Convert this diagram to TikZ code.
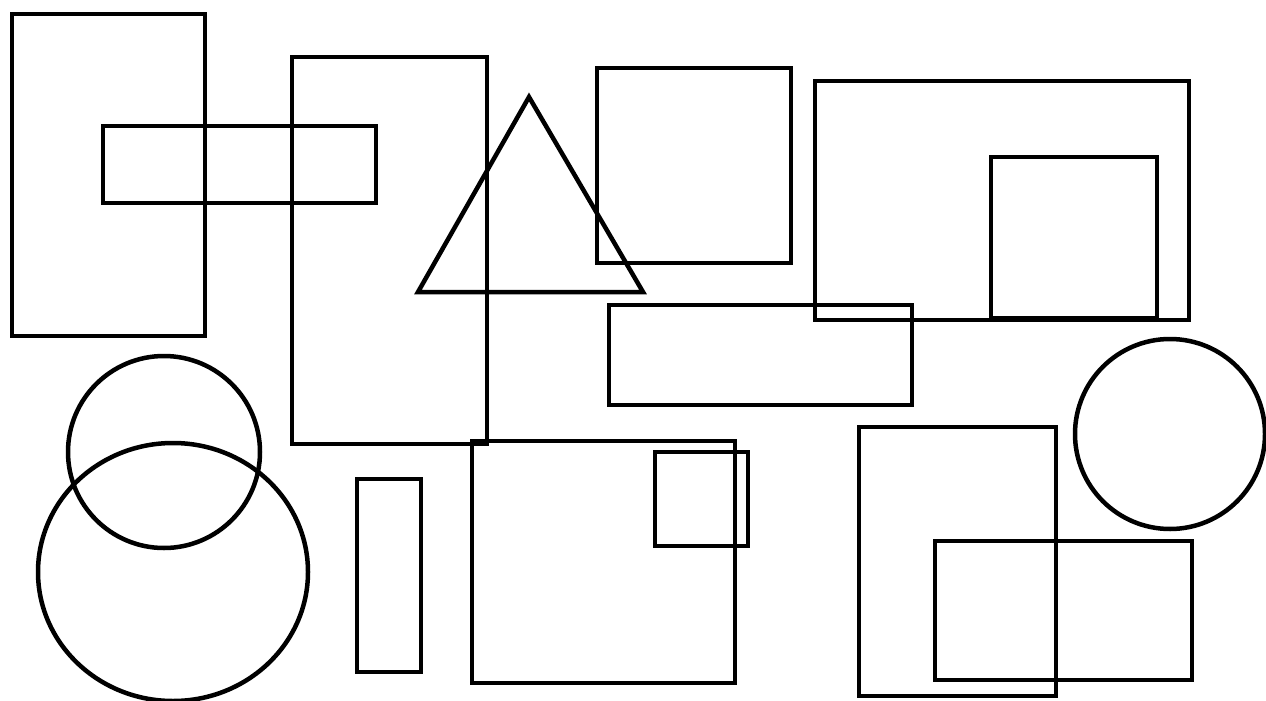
\documentclass[tikz,border=0pt]{standalone}
\begin{document}
\begin{tikzpicture}[x=1pt,y=-1pt,line width=4.5pt,line join=miter]
\useasboundingbox (0,0) rectangle (1266,701);
\draw (12,14) rectangle (205,336);
\draw (103,126) rectangle (376,203);
\draw (292,57) rectangle (487,444);
\draw (529,97) -- (418,292) -- (643,292) -- cycle;
\draw (597,68) rectangle (791,263);
\draw (815,81) rectangle (1189,320);
\draw (991,157) rectangle (1157,318);
\draw (609,305) rectangle (912,405);
\draw (164,452) circle (96);
\draw (173,572) ellipse (135 and 129);
\draw (357,479) rectangle (421,672);
\draw (472,441) rectangle (735,683);
\draw (655,452) rectangle (748,546);
\draw (859,427) rectangle (1056,696);
\draw (935,541) rectangle (1192,680);
\draw (1170,434) circle (95);
\end{tikzpicture}
\end{document}
